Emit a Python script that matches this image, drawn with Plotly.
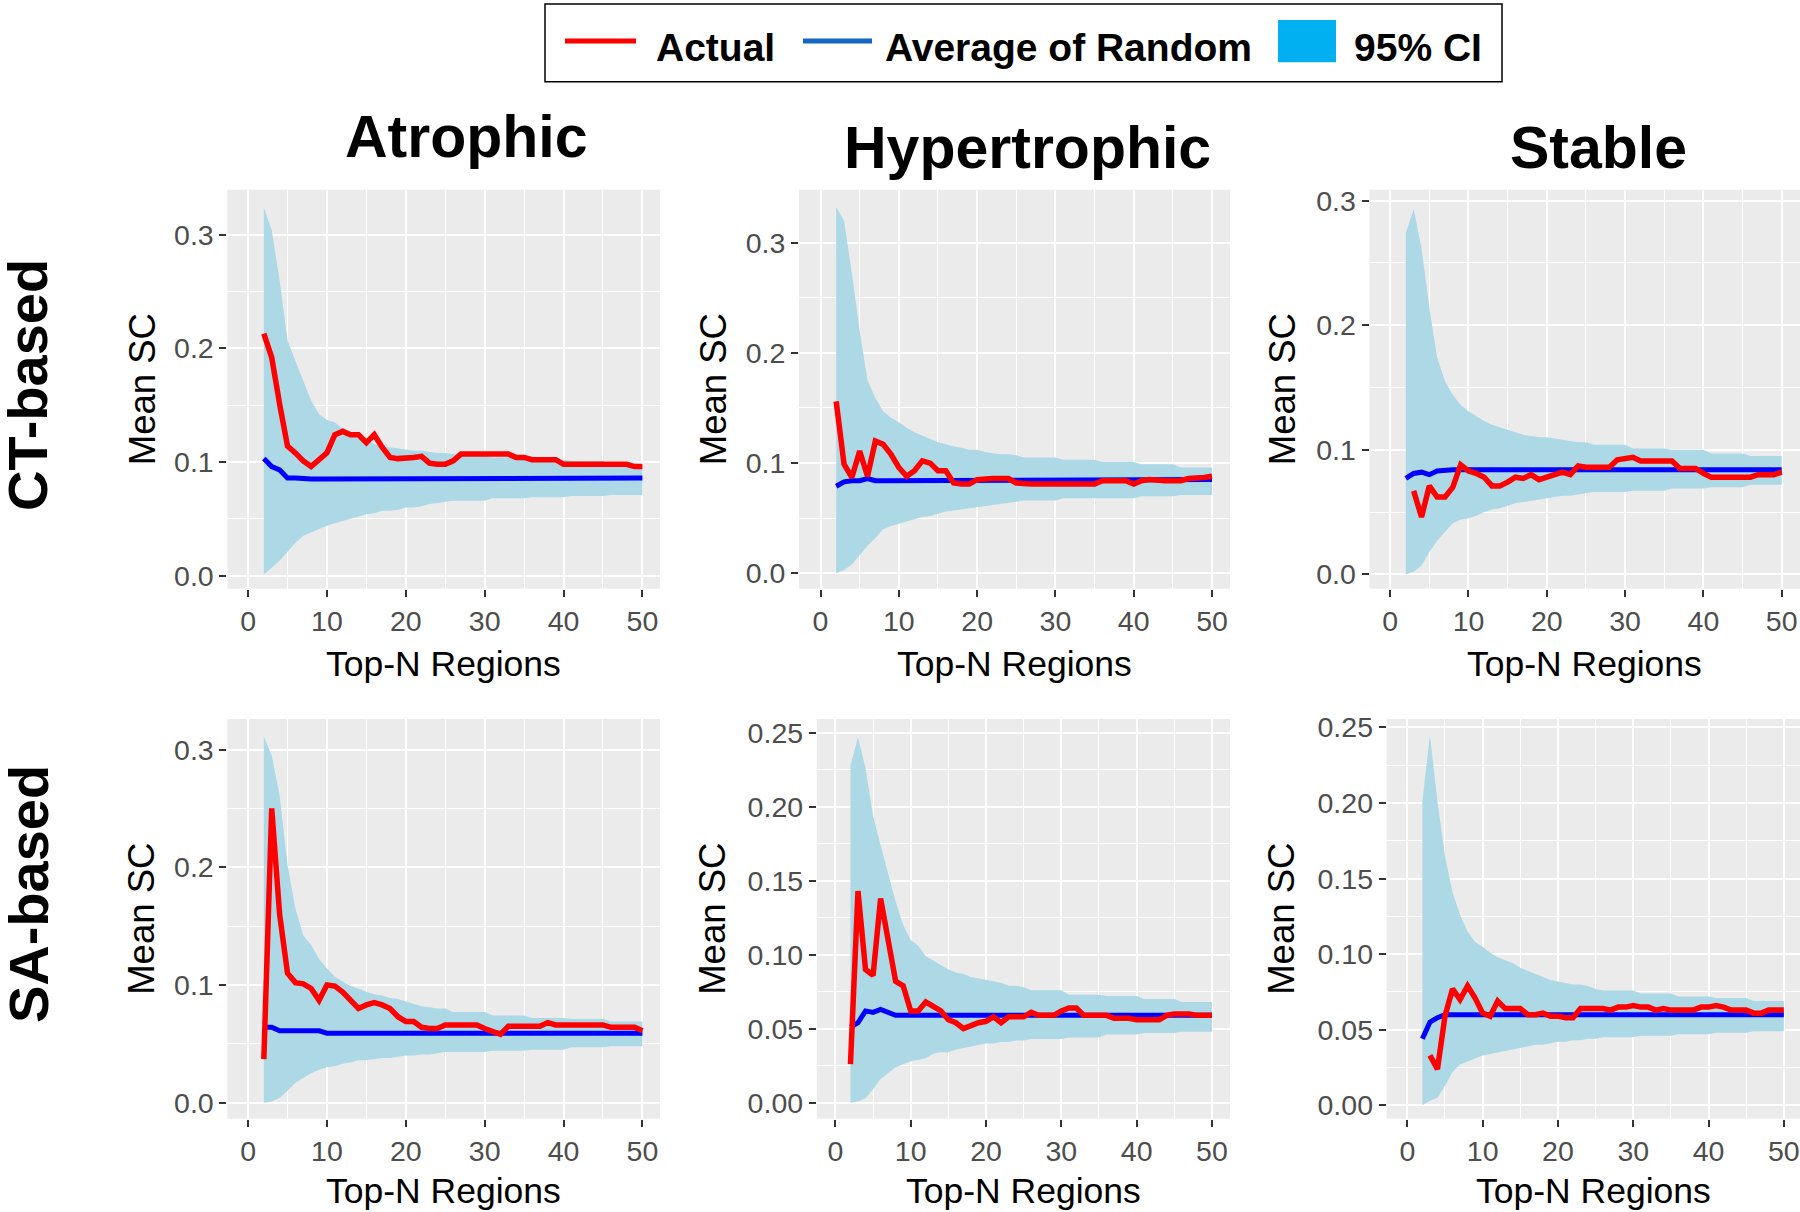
import plotly.graph_objects as go

W, H = 1800, 1212

# ---------------- data (Top-N = 2..50) ----------------
top_n = list(range(2, 51))

ct_atrophic_actual = [.213, .192, .151, .114, .108, .101, .096, .102, .108, .124,
                      .127, .124, .124, .117, .124, .113, .104, .103, .103, .104,
                      .105, .099, .098, .098, .101, .107, .107, .107, .107, .107,
                      .107, .107, .104, .104, .102, .102, .102, .102, .098, .098,
                      .098, .099, .098, .098, .098, .098, .098, .096, .096]
ct_atrophic_random = [.103, .096, .093, .086, .086, .085, .085, .085, .085, .086,
                      .085, .086, .085, .085, .085, .085, .085, .085, .086, .086,
                      .086, .086, .086, .086, .086, .086, .086, .086, .086, .086,
                      .086, .086, .086, .086, .086, .086, .086, .086, .086, .086,
                      .086, .086, .086, .086, .086, .086, .086, .086, .086]
ct_atrophic_hi = [.324, .304, .260, .207, .189, .171, .154, .142, .137, .135,
                  .129, .124, .121, .119, .116, .113, .113, .112, .111, .110,
                  .110, .109, .108, .108, .107, .106, .106, .106, .106, .104,
                  .104, .104, .104, .104, .102, .102, .102, .102, .102, .101,
                  .101, .101, .101, .101, .098, .098, .098, .098, .098]
ct_atrophic_lo = [.001, .007, .013, .021, .029, .035, .038, .041, .044, .046,
                  .048, .050, .052, .054, .055, .057, .057, .058, .060, .060,
                  .061, .063, .064, .065, .066, .066, .066, .066, .066, .068,
                  .068, .068, .068, .068, .069, .069, .069, .069, .069, .070,
                  .070, .070, .070, .070, .071, .071, .071, .071, .071]

ct_hyper_actual = [.156, .099, .087, .111, .088, .120, .117, .108, .096, .088,
                   .093, .102, .100, .093, .093, .082, .081, .081, .085, .086,
                   .086, .086, .086, .082, .081, .081, .081, .081, .081, .081,
                   .081, .081, .081, .081, .084, .084, .084, .084, .081, .084,
                   .085, .084, .084, .084, .084, .086, .086, .087, .088]
ct_hyper_random = [.079, .083, .084, .084, .086, .084, .084, .084, .084, .084,
                   .084, .084, .084, .084, .084, .084, .084, .084, .084, .084,
                   .084, .084, .084, .084, .085, .085, .085, .085, .085, .085,
                   .085, .085, .085, .085, .085, .085, .085, .085, .085, .085,
                   .085, .085, .085, .085, .085, .085, .085, .085, .085]
ct_hyper_hi = [.332, .320, .272, .220, .175, .159, .147, .141, .137, .132,
               .128, .125, .122, .119, .117, .115, .114, .112, .112, .110,
               .109, .108, .108, .107, .105, .105, .105, .105, .105, .103,
               .103, .103, .103, .103, .101, .101, .101, .101, .101, .099,
               .099, .099, .099, .099, .096, .096, .096, .096, .096]
ct_hyper_lo = [.000, .003, .008, .017, .025, .032, .040, .043, .045, .047,
               .049, .051, .052, .054, .056, .057, .058, .059, .060, .061,
               .062, .063, .064, .065, .066, .066, .066, .066, .066, .068,
               .068, .068, .068, .068, .068, .068, .068, .068, .068, .070,
               .070, .070, .070, .070, .071, .071, .071, .071, .071]

ct_stable_actual = [None, .067, .046, .071, .062, .062, .070, .088, .083, .081,
                    .078, .071, .071, .074, .078, .077, .080, .076, .078, .081,
                    .082, .080, .087, .086, .086, .086, .086, .092, .093, .094,
                    .091, .091, .091, .091, .091, .085, .085, .085, .081, .078,
                    .078, .078, .078, .078, .078, .080, .080, .080, .082]
ct_stable_random = [.077, .081, .082, .080, .083, .084, .084, .084, .084, .084,
                    .084, .084, .084, .084, .084, .084, .084, .084, .084, .084,
                    .084, .084, .084, .084, .084, .084, .084, .084, .084, .084,
                    .084, .084, .084, .084, .084, .084, .084, .084, .084, .084,
                    .084, .084, .084, .084, .084, .084, .084, .084, .084]
ct_stable_hi = [.274, .293, .262, .214, .174, .155, .144, .136, .131, .127,
                .123, .120, .118, .116, .114, .112, .111, .110, .110, .109,
                .108, .107, .106, .106, .104, .104, .104, .104, .104, .101,
                .101, .101, .101, .101, .100, .100, .100, .100, .100, .097,
                .097, .097, .097, .097, .095, .095, .095, .095, .095]
ct_stable_lo = [.000, .002, .007, .018, .027, .034, .041, .044, .045, .047,
                .050, .052, .053, .055, .057, .058, .059, .060, .061, .062,
                .063, .063, .064, .065, .066, .066, .066, .066, .066, .067,
                .067, .067, .067, .067, .069, .069, .069, .069, .069, .070,
                .070, .070, .070, .070, .072, .072, .072, .072, .072]

sa_atrophic_actual = [.037, .250, .160, .110, .102, .101, .097, .087, .100, .099,
                      .094, .087, .080, .083, .085, .083, .080, .073, .069, .069,
                      .064, .063, .063, .066, .066, .066, .066, .066, .063, .060,
                      .058, .065, .065, .065, .065, .065, .068, .066, .066, .066,
                      .066, .066, .066, .066, .064, .064, .064, .064, .061]
sa_atrophic_random = [.064, .064, .061, .061, .061, .061, .061, .061, .059, .059,
                      .059, .059, .059, .059, .059, .059, .059, .059, .059, .059,
                      .059, .059, .059, .059, .059, .059, .059, .059, .059, .059,
                      .059, .059, .059, .059, .059, .059, .059, .059, .059, .059,
                      .059, .059, .059, .059, .059, .059, .059, .059, .059]
sa_atrophic_hi = [.311, .295, .261, .202, .165, .142, .134, .122, .114, .107,
                  .103, .099, .097, .094, .092, .091, .089, .088, .086, .084,
                  .082, .081, .080, .080, .077, .077, .077, .077, .077, .074,
                  .074, .074, .074, .074, .072, .072, .072, .072, .072, .071,
                  .071, .071, .071, .071, .069, .069, .069, .069, .069]
sa_atrophic_lo = [.000, .001, .004, .010, .017, .021, .025, .028, .030, .031,
                  .033, .034, .036, .036, .037, .038, .038, .039, .040, .040,
                  .041, .041, .042, .043, .043, .043, .043, .043, .043, .044,
                  .044, .044, .044, .044, .045, .045, .045, .045, .045, .047,
                  .047, .047, .047, .047, .048, .048, .048, .048, .048]

sa_hyper_actual = [.026, .143, .090, .086, .138, .108, .082, .079, .062, .062,
                   .068, .065, .062, .056, .054, .050, .052, .054, .055, .058,
                   .054, .058, .058, .058, .061, .059, .059, .059, .062, .064,
                   .064, .059, .059, .059, .059, .057, .057, .057, .056, .056,
                   .056, .056, .059, .060, .060, .060, .059, .059, .059]
sa_hyper_random = [.051, .054, .062, .061, .063, .061, .059, .059, .059, .059,
                   .059, .059, .059, .059, .059, .059, .059, .059, .059, .059,
                   .059, .059, .059, .059, .059, .059, .059, .059, .059, .059,
                   .059, .059, .059, .059, .059, .059, .059, .059, .059, .059,
                   .059, .059, .059, .059, .059, .059, .059, .059, .059]
sa_hyper_hi = [.228, .247, .226, .194, .174, .154, .136, .120, .110, .106,
               .099, .096, .093, .090, .088, .087, .085, .084, .083, .082,
               .081, .079, .079, .078, .076, .076, .076, .076, .076, .073,
               .073, .073, .073, .073, .072, .072, .072, .072, .072, .070,
               .070, .070, .070, .070, .068, .068, .068, .068, .068]
sa_hyper_lo = [.000, .001, .003, .009, .016, .020, .024, .026, .028, .029,
               .030, .033, .034, .034, .036, .037, .038, .039, .040, .040,
               .041, .041, .042, .042, .043, .043, .043, .043, .043, .044,
               .044, .044, .044, .044, .046, .046, .046, .046, .046, .047,
               .047, .047, .047, .047, .048, .048, .048, .048, .048]

sa_stable_actual = [None, .033, .024, .059, .077, .070, .079, .071, .061, .059,
                    .069, .064, .064, .064, .060, .060, .061, .059, .059, .058,
                    .058, .064, .064, .064, .064, .063, .065, .065, .066, .065,
                    .065, .063, .064, .063, .063, .063, .063, .065, .065, .066,
                    .065, .063, .063, .063, .061, .061, .063, .063, .063]
sa_stable_random = [.044, .055, .058, .060, .060, .060, .060, .060, .060, .060,
                    .060, .060, .060, .060, .060, .060, .060, .060, .060, .060,
                    .060, .060, .060, .060, .060, .060, .060, .060, .060, .060,
                    .060, .060, .060, .060, .060, .060, .060, .060, .060, .060,
                    .060, .060, .060, .060, .060, .060, .060, .060, .060]
sa_stable_hi = [.201, .245, .201, .165, .141, .126, .115, .108, .105, .101,
                .098, .096, .094, .091, .089, .087, .085, .083, .082, .081,
                .080, .080, .079, .077, .076, .076, .076, .076, .076, .074,
                .074, .074, .074, .074, .072, .072, .072, .072, .072, .071,
                .071, .071, .071, .071, .069, .069, .069, .069, .069]
sa_stable_lo = [.000, .003, .005, .013, .022, .027, .029, .031, .033, .034,
                .035, .036, .037, .038, .039, .040, .040, .041, .042, .042,
                .043, .043, .044, .044, .045, .045, .045, .045, .045, .046,
                .046, .046, .046, .046, .047, .047, .047, .047, .047, .048,
                .048, .048, .048, .048, .049, .049, .049, .049, .049]

column_titles = ["Atrophic", "Hypertrophic", "Stable"]
row_titles = ["CT-based", "SA-based"]
legend_labels = ["Actual", "Average of Random", "95% CI"]
x_title = "Top-N Regions"
y_title = "Mean SC"

# ---------------- layout geometry (target pixels) ----------------
panels = [
    dict(a=ct_atrophic_actual, r=ct_atrophic_random, lo=ct_atrophic_lo, hi=ct_atrophic_hi,
         px=(227.4, 660), py=(189.3, 587.3), xr=(-2.62, 52.23), yr=(-0.0115, 0.3397),
         dt=0.1, fmt=".1f", ytx=142),
    dict(a=ct_hyper_actual, r=ct_hyper_random, lo=ct_hyper_lo, hi=ct_hyper_hi,
         px=(799, 1230), py=(189.3, 587.3), xr=(-2.75, 52.3), yr=(-0.0139, 0.3479),
         dt=0.1, fmt=".1f", ytx=713),
    dict(a=ct_stable_actual, r=ct_stable_random, lo=ct_stable_lo, hi=ct_stable_hi,
         px=(1369.5, 1800), py=(189.3, 587.3), xr=(-2.64, 52.34), yr=(-0.0115, 0.3087),
         dt=0.1, fmt=".1f", ytx=1282),
    dict(a=sa_atrophic_actual, r=sa_atrophic_random, lo=sa_atrophic_lo, hi=sa_atrophic_hi,
         px=(227.4, 660), py=(717.3, 1116), xr=(-2.62, 52.23), yr=(-0.0136, 0.326),
         dt=0.1, fmt=".1f", ytx=142),
    dict(a=sa_hyper_actual, r=sa_hyper_random, lo=sa_hyper_lo, hi=sa_hyper_hi,
         px=(816.8, 1230), py=(717.3, 1116), xr=(-2.47, 52.4), yr=(-0.0108, 0.2593),
         dt=0.05, fmt=".2f", ytx=713),
    dict(a=sa_stable_actual, r=sa_stable_random, lo=sa_stable_lo, hi=sa_stable_hi,
         px=(1386.7, 1800), py=(717.3, 1116), xr=(-2.74, 52.15), yr=(-0.0088, 0.2556),
         dt=0.05, fmt=".2f", ytx=1282),
]

FONT = "Liberation Sans, Arial, sans-serif"
CI_COLOR = "#ADD8E6"

# the captured page comes out slightly squeezed vertically; pre-compensate
SY, CY = 0.9894, 7.0


def fx(x):
    return x / W


def fy(y):
    return 1 - ((y - CY) / SY) / H


fig = go.Figure()
layout = dict()
annotations = []

for i, p in enumerate(panels, start=1):
    xa = "x" if i == 1 else f"x{i}"
    ya = "y" if i == 1 else f"y{i}"
    common = dict(xaxis=xa, yaxis=ya, showlegend=False, hoverinfo="skip")
    fig.add_trace(go.Scatter(x=top_n, y=p["lo"], mode="lines",
                             line=dict(width=0, color=CI_COLOR), **common))
    fig.add_trace(go.Scatter(x=top_n, y=p["hi"], mode="lines", fill="tonexty",
                             fillcolor=CI_COLOR, line=dict(width=0, color=CI_COLOR), **common))
    fig.add_trace(go.Scatter(x=top_n, y=p["r"], mode="lines",
                             line=dict(width=5, color="#0000FF"), **common))
    fig.add_trace(go.Scatter(x=top_n, y=p["a"], mode="lines",
                             line=dict(width=5.5, color="#FF0000"), **common))

    kx = "xaxis" if i == 1 else f"xaxis{i}"
    ky = "yaxis" if i == 1 else f"yaxis{i}"
    layout[kx] = dict(
        domain=[fx(p["px"][0]), fx(p["px"][1])], anchor=ya, range=list(p["xr"]),
        tick0=0, dtick=10, ticks="outside", ticklen=7, tickwidth=2, tickcolor="#333333",
        tickfont=dict(family=FONT, size=28.5, color="#4D4D4D"),
        showgrid=True, gridcolor="white", gridwidth=2.2, zeroline=False, showline=False,
        minor=dict(dtick=5, tick0=0, showgrid=True, gridcolor="white", gridwidth=1.1, ticks=""),
    )
    layout[ky] = dict(
        domain=[fy(p["py"][1]), fy(p["py"][0])], anchor=xa, range=list(p["yr"]),
        tick0=0, dtick=p["dt"], tickformat=p["fmt"], ticks="outside", ticklen=7,
        tickwidth=2, tickcolor="#333333",
        tickfont=dict(family=FONT, size=28.5, color="#4D4D4D"),
        showgrid=True, gridcolor="white", gridwidth=2.2, zeroline=False, showline=False,
        minor=dict(dtick=p["dt"] / 2, tick0=0, showgrid=True, gridcolor="white",
                   gridwidth=1.1, ticks=""),
    )
    # axis titles
    cx = (p["px"][0] + p["px"][1]) / 2
    cy = (p["py"][0] + p["py"][1]) / 2
    xt_y = 662 if i <= 3 else 1188
    annotations.append(dict(x=fx(cx), y=fy(xt_y), xref="paper", yref="paper",
                            text=x_title, showarrow=False, xanchor="center", yanchor="middle",
                            font=dict(family=FONT, size=35.5, color="black")))
    annotations.append(dict(x=fx(p["ytx"]), y=fy(cy), xref="paper", yref="paper",
                            text=y_title, showarrow=False, textangle=-90,
                            xanchor="center", yanchor="middle",
                            font=dict(family=FONT, size=36.5, color="black")))

# column titles
for t, cx, cy in zip(column_titles, [466, 1027, 1598], [137, 148, 148]):
    annotations.append(dict(x=fx(cx), y=fy(cy), xref="paper", yref="paper",
                            text=f"<b>{t}</b>", showarrow=False,
                            xanchor="center", yanchor="middle",
                            font=dict(family=FONT, size=59, color="black")))
# row titles
for t, cy in zip(row_titles, [384, 892]):
    annotations.append(dict(x=fx(28), y=fy(cy), xref="paper", yref="paper",
                            text=f"<b>{t}</b>", showarrow=False, textangle=-90,
                            xanchor="center", yanchor="middle",
                            font=dict(family=FONT, size=56, color="black")))

# legend (drawn)
shapes = [
    dict(type="rect", xref="paper", yref="paper", x0=fx(545), x1=fx(1502),
         y0=fy(81.5), y1=fy(4), line=dict(color="black", width=1.5), fillcolor="white"),
    dict(type="line", xref="paper", yref="paper", x0=fx(565), x1=fx(636),
         y0=fy(41), y1=fy(41), line=dict(color="#FF0000", width=5)),
    dict(type="line", xref="paper", yref="paper", x0=fx(803), x1=fx(872),
         y0=fy(41), y1=fy(41), line=dict(color="#1467C2", width=5)),
    dict(type="rect", xref="paper", yref="paper", x0=fx(1278), x1=fx(1336),
         y0=fy(62), y1=fy(20), line=dict(width=0), fillcolor="#00B0F0"),
]
for t, lx in zip(legend_labels, [654, 883, 1352]):
    annotations.append(dict(x=fx(lx), y=fy(47), xref="paper", yref="paper",
                            text=f"<b>{t}</b>", showarrow=False,
                            xanchor="left", yanchor="middle",
                            font=dict(family=FONT, size=39, color="black")))

fig.update_layout(
    width=W, height=H, margin=dict(l=0, r=0, t=0, b=0),
    paper_bgcolor="white", plot_bgcolor="#EBEBEB",
    showlegend=False, annotations=annotations, shapes=shapes,
    **layout,
)

fig.write_html(
    "out.html",
    config={"displayModeBar": False},
    post_script="document.body.style.margin='0';document.body.style.overflow='hidden';",
)
